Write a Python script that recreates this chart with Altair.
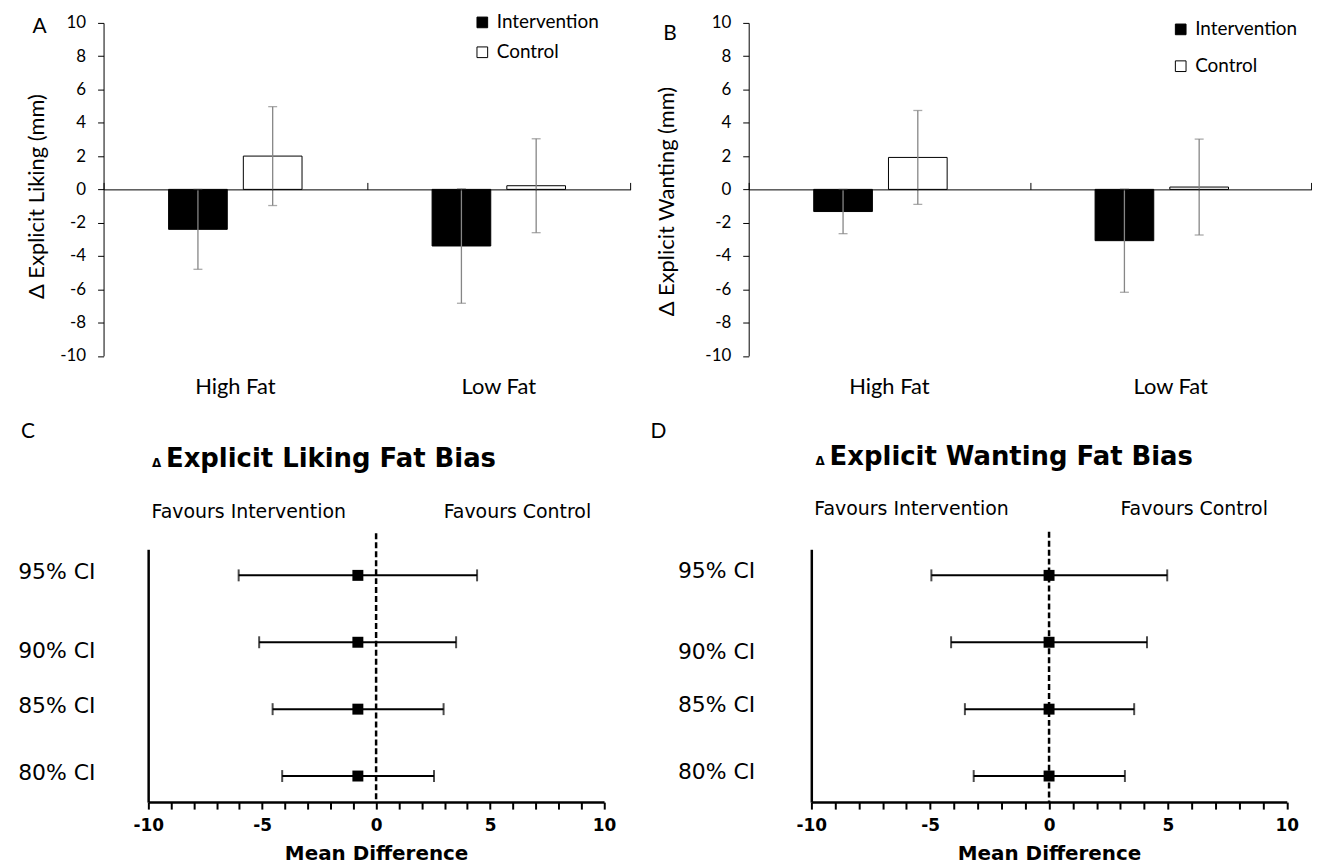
import altair as alt
import pandas as pd

# ---------------- data ----------------
categories = ["High Fat", "Low Fat"]
groups = ["Intervention", "Control"]

liking_intervention = [-2.4, -3.4]
liking_intervention_err = [2.4, 3.44]
liking_control = [2.0, 0.22]
liking_control_err = [2.97, 2.82]

wanting_intervention = [-1.33, -3.08]
wanting_intervention_err = [1.33, 3.1]
wanting_control = [1.92, 0.14]
wanting_control_err = [2.82, 2.88]

ci_levels = ["95% CI", "90% CI", "85% CI", "80% CI"]
liking_md = [-0.8, -0.8, -0.8, -0.8]
liking_lo = [-6.03, -5.13, -4.54, -4.12]
liking_hi = [4.43, 3.51, 2.96, 2.54]
wanting_md = [0.0, 0.0, 0.0, 0.0]
wanting_lo = [-4.95, -4.12, -3.54, -3.17]
wanting_hi = [4.97, 4.12, 3.58, 3.19]

bar_y_ticks = [-10, -8, -6, -4, -2, 0, 2, 4, 6, 8, 10]
md_ticks = [-10, -9, -8, -7, -6, -5, -4, -3, -2, -1, 0, 1, 2, 3, 4, 5, 6, 7, 8, 9, 10]
zero_line = [0]

liking_bar_title = "\u0394 Explicit Liking (mm)"
wanting_bar_title = "\u0394 Explicit Wanting (mm)"
liking_forest_title = "Explicit Liking Fat Bias"
wanting_forest_title = "Explicit Wanting Fat Bias"
delta_sign = "\u0394"
favours = ["Favours Intervention", "Favours Control"]
panel_letters = ["A", "B", "C", "D"]

TOP_FONT = "Lato"
BOT_FONT = "DejaVu Sans"
ERR_COLOR = "#868686"
MINUS_FIX = "replace(datum.label, '\u2212', '-')"


def text_layer(txt, x, y, font, size, weight="normal", align="left", baseline="middle"):
    return alt.Chart(pd.DataFrame({"t": [txt]})).mark_text(
        font=font, fontSize=size, fontWeight=weight, color="black",
        align=align, baseline=baseline
    ).encode(text="t:N", x=alt.value(x), y=alt.value(y))


def bar_frame(iv, ie, cv, ce):
    rows = []
    for i, c in enumerate(categories):
        rows.append({"category": c, "group": groups[0], "mean": iv[i], "err": ie[i]})
        rows.append({"category": c, "group": groups[1], "mean": cv[i], "err": ce[i]})
    return pd.DataFrame(rows)


def bar_panel(df, ytitle, w, h, title_x, title_y, leg_x, leg_y, leg_pad, letter, lx, ly):
    base = alt.Chart(df).transform_calculate(
        lo="datum.mean - datum.err", hi="datum.mean + datum.err"
    )
    yscale = alt.Scale(domain=[-10, 10], nice=False, zero=False)
    xscale = alt.Scale(domain=categories, paddingInner=0, paddingOuter=0)
    offscale = alt.Scale(domain=groups, paddingInner=0.215, paddingOuter=0.87)
    yax = alt.Axis(
        values=bar_y_ticks, title=ytitle, grid=False,
        domainColor="black", domainWidth=1, tickColor="black", tickWidth=1, tickSize=6,
        labelFont=TOP_FONT, labelFontSize=17, labelColor="black", labelPadding=12,
        labelExpr=MINUS_FIX,
        titleFont=TOP_FONT, titleFontSize=22, titleFontWeight="normal", titleColor="black",
        titleX=title_x, titleY=title_y, titleAlign="center", titleBaseline="middle",
        titleAngle=270,
    )
    bars = base.mark_bar(stroke="black", strokeWidth=1).encode(
        x=alt.X("category:N", scale=xscale, title=None,
                axis=alt.Axis(orient="bottom", labelAngle=0, labelFont=TOP_FONT,
                              labelFontSize=22, labelColor="black", labelPadding=21,
                              ticks=False, tickSize=0, domain=False, grid=False)),
        xOffset=alt.XOffset("group:N", scale=offscale),
        y=alt.Y("mean:Q", stack=None, scale=yscale, axis=yax, title=ytitle),
        fill=alt.Fill("group:N", scale=alt.Scale(domain=groups, range=["black", "white"]),
                      legend=alt.Legend(title=None, orient="none", legendX=leg_x, legendY=leg_y,
                                        direction="vertical", symbolType="square", symbolSize=115,
                                        symbolStrokeColor="black", symbolStrokeWidth=1,
                                        labelFont=TOP_FONT, labelFontSize=19, labelColor="black",
                                        labelOffset=5, rowPadding=leg_pad, padding=0)),
    )
    err = base.mark_rule(color=ERR_COLOR, strokeWidth=1.3).encode(
        x=alt.X("category:N", scale=xscale, title=None,
                axis=alt.Axis(orient="top", offset=-h / 2, labels=False, domain=True,
                              domainColor="black", domainWidth=1, ticks=True, tickBand="extent",
                              tickSize=7, tickColor="black", tickWidth=1, grid=False, zindex=1)),
        xOffset=alt.XOffset("group:N", scale=offscale),
        y=alt.Y("lo:Q", scale=yscale, axis=yax, title=ytitle),
        y2="hi:Q",
    )
    caps = []
    for fld in ["lo", "hi"]:
        caps.append(base.mark_tick(color=ERR_COLOR, thickness=1.3, size=9).encode(
            x=alt.X("category:N", scale=xscale, axis=None),
            xOffset=alt.XOffset("group:N", scale=offscale),
            y=alt.Y(fld + ":Q", scale=yscale, axis=yax, title=ytitle),
        ))
    lab = text_layer(letter, lx, ly, TOP_FONT, 21, align="center")
    return alt.layer(bars, err, caps[0], caps[1], lab).resolve_axis(x="independent").properties(
        width=w, height=h)


def forest_panel(md, lo, hi, w, h, axis_x, label_pad, off90, off_other, title_txt,
                 letter, letter_pos, delta_pos, title_pos, fav_pos, ctl_pos, dash_top):
    df = pd.DataFrame({"ci": ci_levels, "md": md, "lo": lo, "hi": hi})
    base = alt.Chart(df)
    xscale = alt.Scale(domain=[-10, 10], range=[axis_x, w], nice=False, zero=False)
    yscale = alt.Scale(type="point", domain=ci_levels, padding=0.39)
    xax = alt.Axis(
        values=md_ticks, title="Mean Difference", grid=False,
        labelExpr="datum.value % 5 === 0 ? " + MINUS_FIX + " : ''",
        domainColor="black", domainWidth=2.5, tickColor="black", tickWidth=2, tickSize=7,
        labelFont=BOT_FONT, labelFontWeight="bold", labelFontSize=17, labelColor="black",
        labelPadding=9, labelFlush=False, labelOverlap=False,
        titleFont=BOT_FONT, titleFontWeight="bold", titleFontSize=20, titleColor="black",
        titlePadding=10,
    )
    yax = alt.Axis(
        title=None, grid=False, offset=-axis_x, domainColor="black", domainWidth=2.5,
        ticks=False, tickSize=0, labelFont=BOT_FONT, labelFontSize=22, labelColor="black",
        labelPadding=label_pad,
        labelOffset={"condition": {"test": "datum.value === '90% CI'", "value": off90},
                     "value": off_other},
    )
    ci_rule = base.mark_rule(color="black", strokeWidth=2).encode(
        x=alt.X("lo:Q", scale=xscale, axis=xax, title="Mean Difference"),
        x2="hi:Q",
        y=alt.Y("ci:N", scale=yscale, axis=yax, title=None),
    )
    caps = []
    for fld in ["lo", "hi"]:
        caps.append(base.mark_tick(color="black", thickness=2, size=12).encode(
            x=alt.X(fld + ":Q", scale=xscale, axis=xax, title="Mean Difference"),
            y=alt.Y("ci:N", scale=yscale, axis=yax, title=None),
        ))
    dash = alt.Chart(pd.DataFrame({"z": zero_line})).mark_rule(
        color="black", strokeWidth=2.5, strokeDash=[6, 3]
    ).encode(
        x=alt.X("z:Q", scale=xscale, axis=xax, title="Mean Difference"),
        y=alt.value(dash_top), y2=alt.value(h),
    )
    pts = base.mark_point(shape="square", filled=True, size=121, color="black", opacity=1).encode(
        x=alt.X("md:Q", scale=xscale, axis=xax, title="Mean Difference"),
        y=alt.Y("ci:N", scale=yscale, axis=yax, title=None),
    )
    texts = [
        text_layer(letter, letter_pos[0], letter_pos[1], TOP_FONT, 21, align="center"),
        text_layer(delta_sign, delta_pos[0], delta_pos[1], BOT_FONT, 12, weight="bold",
                   baseline="alphabetic"),
        text_layer(title_txt, title_pos[0], title_pos[1], BOT_FONT, 26, weight="bold",
                   baseline="alphabetic"),
        text_layer(favours[0], fav_pos[0], fav_pos[1], BOT_FONT, 19),
        text_layer(favours[1], ctl_pos[0], ctl_pos[1], BOT_FONT, 19),
    ]
    return alt.layer(dash, ci_rule, caps[0], caps[1], pts, *texts).properties(width=w, height=h)


panel_a = bar_panel(
    bar_frame(liking_intervention, liking_intervention_err, liking_control, liking_control_err),
    liking_bar_title, 529.4, 334.5, -67.5, 174, 371, -10, 10, panel_letters[0], -64.3, 4)
panel_b = bar_panel(
    bar_frame(wanting_intervention, wanting_intervention_err, wanting_control, wanting_control_err),
    wanting_bar_title, 565.3, 334.5, -82.7, 179, 424.5, -3, 17, panel_letters[1], -79.1, 10.7)

panel_c = forest_panel(
    liking_md, liking_lo, liking_hi, 502.8, 254, 44.8, 53.4, 8, -4, liking_forest_title,
    panel_letters[2], (-75.8, -117.8), (48.7, -82.6), (62.7, -82.6), (48.2, -37.6),
    (341.7, -37.6), -16)
panel_d = forest_panel(
    wanting_md, wanting_lo, wanting_hi, 540.6, 254, 62.9, 56.8, 9, -5, wanting_forest_title,
    panel_letters[3], (-90.7, -117.3), (67.1, -84.3), (81.3, -84.3), (65.9, -40.3),
    (373.5, -40.3), -17.6)

chart = alt.concat(
    panel_a, panel_b, panel_c, panel_d,
    columns=2, spacing={"row": 193.8, "column": 82.1}, bounds="flush", align="all",
).resolve_scale(fill="independent").resolve_legend(fill="independent").properties(
    padding={"left": 9, "top": 3, "right": 0, "bottom": 0}, background="white"
).configure_view(stroke="transparent", strokeWidth=0)

chart.save("out.html", embed_options={"renderer": "svg", "actions": False})
